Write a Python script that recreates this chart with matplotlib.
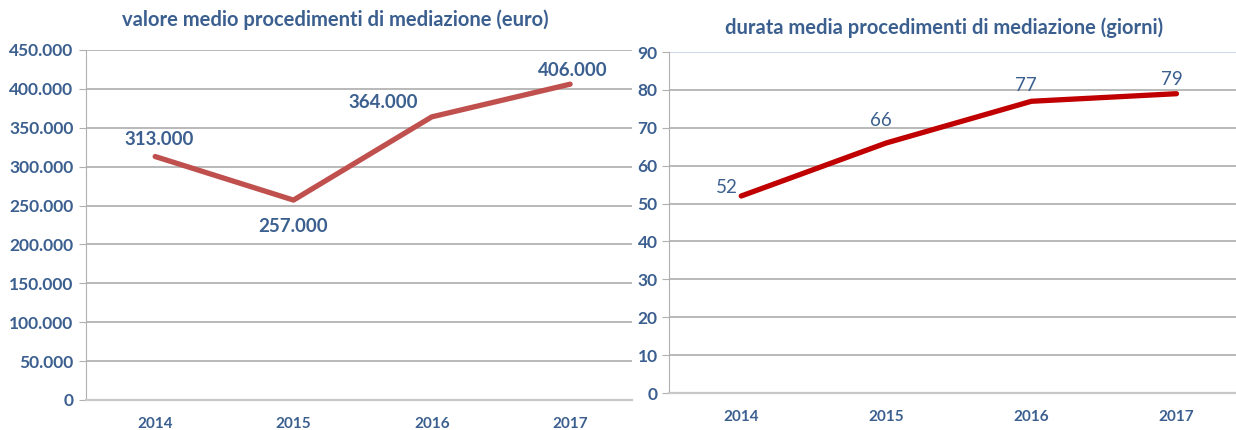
import matplotlib.pyplot as plt
from matplotlib.ticker import FuncFormatter

years = ["2014", "2015", "2016", "2017"]
valore = [313000, 257000, 364000, 406000]
durata = [52, 66, 77, 79]

blue = "#3B5F8F"
grid = "#A6A6A6"

plt.rcParams["font.family"] = ["Lato", "DejaVu Sans"]

fig = plt.figure(figsize=(12.36, 4.30), dpi=100)

# left chart: valore medio
ax1 = fig.add_axes([0.0696, 0.0698, 0.442, 0.814])
x = range(len(years))
ax1.plot(x, valore, color="#C0504D", lw=3.8, solid_capstyle="round")
ax1.set_xlim(-0.5, 3.45)
ax1.set_ylim(0, 450000)
ax1.set_yticks(range(0, 450001, 50000))
ax1.yaxis.set_major_formatter(FuncFormatter(lambda v, p: f"{int(v):,}".replace(",", ".")))
ax1.set_xticks(list(x))
ax1.set_xticklabels(years)
ax1.grid(axis="y", color=grid, lw=1.1)
ax1.set_axisbelow(True)
for s in ["top", "right"]:
    ax1.spines[s].set_visible(False)
ax1.spines["left"].set_color("#B0B0B0")
ax1.spines["bottom"].set_color("#C8C8C8")
ax1.spines["bottom"].set_linewidth(1.6)
ax1.tick_params(axis="y", colors=blue, labelsize=12.5, length=5, color="#B0B0B0", pad=4)
ax1.tick_params(axis="x", colors=blue, labelsize=11, length=0, pad=12)
for lab in ax1.get_yticklabels() + ax1.get_xticklabels():
    lab.set_fontweight("bold")
ax1.set_title("valore medio procedimenti di mediazione (euro)", color=blue,
              fontsize=14.5, fontweight="bold", pad=17, x=0.456)
offs1 = [(0.03, 22000), (0, -34000), (-0.35, 19000), (0.02, 18000)]
for i, v in enumerate(valore):
    ax1.text(i + offs1[i][0], v + offs1[i][1], f"{v:,}".replace(",", "."),
             color=blue, fontsize=13.5, fontweight="bold", ha="center", va="center")

# right chart: durata media
ax2 = fig.add_axes([0.541, 0.086, 0.459, 0.793])
ax2.plot(x, durata, color="#C00000", lw=3.8, solid_capstyle="round")
ax2.set_xlim(-0.5, 3.41)
ax2.set_ylim(0, 90)
ax2.set_yticks(range(0, 91, 10))
ax2.set_xticks(list(x))
ax2.set_xticklabels(years)
ax2.grid(axis="y", color=grid, lw=1.1)
ax2.get_ygridlines()[-1].set_color("#B9CDE5")
ax2.set_axisbelow(True)
for s in ["top", "right"]:
    ax2.spines[s].set_visible(False)
ax2.spines["left"].set_color("#B0B0B0")
ax2.spines["bottom"].set_color("#C8C8C8")
ax2.spines["bottom"].set_linewidth(1.6)
ax2.tick_params(axis="y", colors=blue, labelsize=12.5, length=5, color="#B0B0B0", pad=3)
ax2.tick_params(axis="x", colors=blue, labelsize=11, length=0, pad=12)
for lab in ax2.get_yticklabels() + ax2.get_xticklabels():
    lab.set_fontweight("bold")
ax2.set_title("durata media procedimenti di mediazione (giorni)", color=blue,
              fontsize=14.5, fontweight="bold", pad=13, x=0.485)
offs2 = [(-0.1, 2.3), (-0.04, 5.8), (-0.04, 4.2), (-0.03, 3.8)]
for i, v in enumerate(durata):
    ax2.text(i + offs2[i][0], v + offs2[i][1], str(v),
             color=blue, fontsize=13.5, ha="center", va="center")

fig.savefig("out.png", dpi=100)
